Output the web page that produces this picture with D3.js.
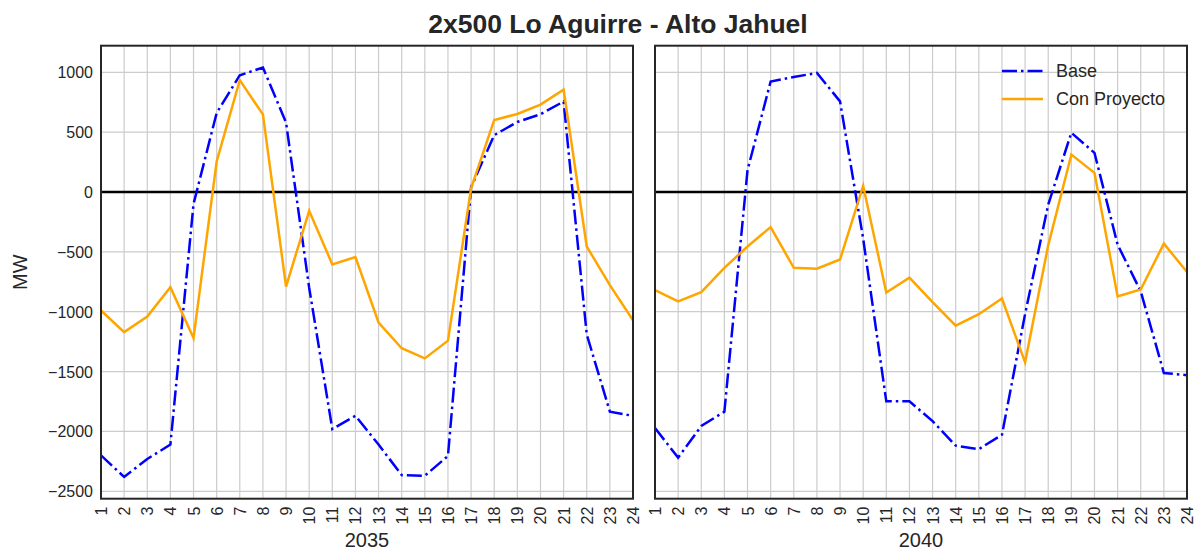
<!DOCTYPE html>
<html>
<head>
<meta charset="utf-8">
<script src="https://cdn.jsdelivr.net/npm/d3@7/dist/d3.min.js"></script>
<style>
  body { margin: 0; background: #fff; }
  svg { display: block; }
  text { font-family: "Liberation Sans", Arial, sans-serif; fill: #262626; }
</style>
</head>
<body>
<svg id="chart" width="1201" height="552"></svg>
<script>
// Hourly flow on the 2x500 kV Lo Aguirre - Alto Jahuel line (MW)
const hours = [1, 2, 3, 4, 5, 6, 7, 8, 9, 10, 11, 12, 13, 14, 15, 16, 17, 18, 19, 20, 21, 22, 23, 24];

const base2035 = [-2200, -2380, -2230, -2110, -100, 660, 975, 1040, 580, -800, -1980, -1870,
                  -2110, -2365, -2370, -2205, 40, 475, 585, 650, 755, -1190, -1835, -1870];
const proyecto2035 = [-990, -1170, -1040, -795, -1220, 255, 935, 648, -790, -157, -605, -543,
                      -1090, -1305, -1390, -1242, 30, 602, 652, 730, 855, -455, -778, -1072];

const base2040 = [-1972, -2219, -1955, -1835, 182, 923, 960, 995, 757, -390, -1749, -1749,
                  -1914, -2119, -2148, -2028, -1020, -105, 495, 327, -440, -830, -1512, -1530];
const proyecto2040 = [-819, -914, -836, -633, -455, -293, -633, -641, -564, 52, -840, -715,
                      -920, -1117, -1021, -890, -1423, -445, 312, 160, -873, -814, -431, -669];

const yTicks = [1000, 500, 0, -500, -1000, -1500, -2000, -2500];
const panelYears = ["2035", "2040"];
const seriesNames = ["Base", "Con Proyecto"];

const svg = d3.select("#chart");

const plotTop = 45.7, plotBottom = 498.7;
const y = d3.scaleLinear().domain([-2562, 1222]).range([plotBottom, plotTop]);

const panels = [
  { year: panelYears[0], base: base2035, proj: proyecto2035, left: 101, right: 633 },
  { year: panelYears[1], base: base2040, proj: proyecto2040, left: 655, right: 1187 }
];

const fmt = d => d < 0 ? "\u2212" + Math.abs(d) : String(d);

panels.forEach((p, i) => {
  const x = d3.scaleLinear().domain([1, 24]).range([p.left, p.right]);
  const g = svg.append("g");
  const clipId = "clip" + i;
  svg.append("clipPath").attr("id", clipId)
    .append("rect").attr("x", p.left).attr("y", plotTop)
    .attr("width", p.right - p.left).attr("height", plotBottom - plotTop);

  // grid
  const grid = g.append("g").attr("clip-path", `url(#${clipId})`);
  grid.selectAll("line.v").data(hours).join("line")
    .attr("x1", d => x(d)).attr("x2", d => x(d))
    .attr("y1", plotTop).attr("y2", plotBottom)
    .attr("stroke", "#cccccc").attr("stroke-width", 1.2);
  grid.selectAll("line.h").data(yTicks).join("line")
    .attr("x1", p.left).attr("x2", p.right)
    .attr("y1", d => y(d)).attr("y2", d => y(d))
    .attr("stroke", "#cccccc").attr("stroke-width", 1.2);

  // zero reference
  g.append("line")
    .attr("x1", p.left).attr("x2", p.right)
    .attr("y1", y(0)).attr("y2", y(0))
    .attr("stroke", "#000").attr("stroke-width", 2.5);

  const line = d3.line().x((d, k) => x(hours[k])).y(d => y(d));
  const plot = g.append("g").attr("clip-path", `url(#${clipId})`);
  plot.append("path").datum(p.base)
    .attr("d", line).attr("fill", "none")
    .attr("stroke", "#0000ff").attr("stroke-width", 2.5)
    .attr("stroke-dasharray", "15,4,2.5,4");
  plot.append("path").datum(p.proj)
    .attr("d", line).attr("fill", "none")
    .attr("stroke", "#ffa500").attr("stroke-width", 2.5);

  // frame
  g.append("rect")
    .attr("x", p.left).attr("y", plotTop)
    .attr("width", p.right - p.left).attr("height", plotBottom - plotTop)
    .attr("fill", "none").attr("stroke", "#262626").attr("stroke-width", 2);

  // x tick labels (rotated)
  g.selectAll("text.xt").data(hours).join("text")
    .attr("transform", d => `translate(${x(d) + 6},${plotBottom + 8}) rotate(-90)`)
    .attr("text-anchor", "end")
    .attr("font-size", 16)
    .text(d => d);

  g.append("text")
    .attr("x", (p.left + p.right) / 2).attr("y", 547)
    .attr("text-anchor", "middle").attr("font-size", 20)
    .text(p.year);

  if (i === 0) {
    g.selectAll("text.yt").data(yTicks).join("text")
      .attr("x", p.left - 8).attr("y", d => y(d) + 6)
      .attr("text-anchor", "end").attr("font-size", 16)
      .text(fmt);
    g.append("text")
      .attr("transform", `translate(27,${(plotTop + plotBottom) / 2}) rotate(-90)`)
      .attr("text-anchor", "middle").attr("font-size", 20)
      .text("MW");
  } else {
    // legend
    const lg = g.append("g");
    const rows = [
      { name: seriesNames[0], color: "#0000ff", dash: "15,4,2.5,4" },
      { name: seriesNames[1], color: "#ffa500", dash: null }
    ];
    rows.forEach((r, k) => {
      const yy = 71 + k * 28;
      lg.append("line").attr("x1", 1002).attr("x2", 1043)
        .attr("y1", yy).attr("y2", yy)
        .attr("stroke", r.color).attr("stroke-width", 2.5)
        .attr("stroke-dasharray", r.dash);
      lg.append("text").attr("x", 1056).attr("y", yy + 6)
        .attr("font-size", 18).text(r.name);
    });
  }
});

svg.append("text")
  .attr("x", 618).attr("y", 33)
  .attr("text-anchor", "middle")
  .attr("font-size", 26.5).attr("font-weight", "bold")
  .text("2x500 Lo Aguirre - Alto Jahuel");
</script>
</body>
</html>
